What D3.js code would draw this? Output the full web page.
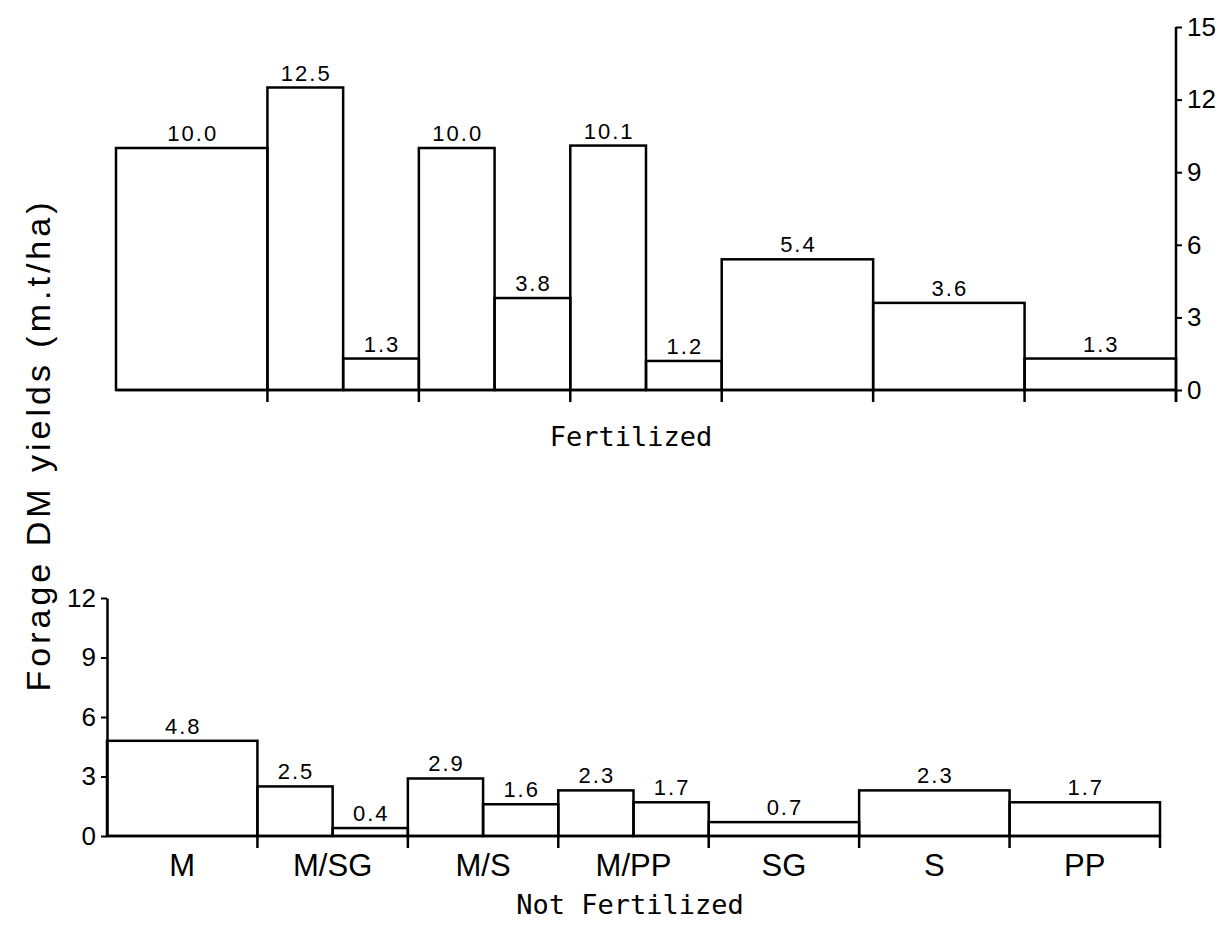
<!DOCTYPE html>
<html>
<head>
<meta charset="utf-8">
<script src="https://cdn.jsdelivr.net/npm/d3@7"></script>
<style>
  body { margin: 0; background: #fff; }
  .val { font-family: "Liberation Sans", Arial, sans-serif; font-size: 22px; letter-spacing: 2px; }
  .cat { font-family: "Liberation Sans", Arial, sans-serif; font-size: 31px; }
  .panel { font-family: "DejaVu Sans Mono", "Liberation Mono", monospace; font-size: 27px; }
  .tick text { font-family: "Liberation Sans", Arial, sans-serif; font-size: 26px; }
</style>
</head>
<body>
<div id="chart"></div>
<script>
// crops, single or mixture (first / second component)
var categories = ["M", "M/SG", "M/S", "M/PP", "SG", "S", "PP"];
var fertFirst = [10.0, 12.5, 10.0, 10.1, 5.4, 3.6, 1.3];
var fertSecond = [null, 1.3, 3.8, 1.2, null, null, null];
var notFertFirst = [4.8, 2.5, 2.9, 2.3, 0.7, 2.3, 1.7];
var notFertSecond = [null, 0.4, 1.6, 1.7, null, null, null];
var fertTicks = [0, 3, 6, 9, 12, 15];
var notFertTicks = [0, 3, 6, 9, 12];

var svgWidth = 1229;
var svgHeight = 930;

var svg = d3.select("#chart")
  .append("svg")
  .attr("width", svgWidth)
  .attr("height", svgHeight)
  .style("background", "#fff");

// build bar records from the arrays
function makeBars(first, second) {
  var bars = [];
  categories.forEach(function(c, i) {
    if (second[i] == null) {
      bars.push({cat: c, part: 0, parts: 1, value: first[i]});
    } else {
      bars.push({cat: c, part: 0, parts: 2, value: first[i]});
      bars.push({cat: c, part: 1, parts: 2, value: second[i]});
    }
  });
  return bars;
}

function drawPanel(opts) {
  var g = svg.append("g");
  var x = d3.scaleBand().domain(categories).range(opts.xRange).padding(0);
  var y = d3.scaleLinear().domain(opts.yDomain).range(opts.yRange);
  var bars = makeBars(opts.first, opts.second);

  var bx = function(d) { return x(d.cat) + d.part * x.bandwidth() / d.parts; };
  var bw = function(d) { return x.bandwidth() / d.parts; };

  g.selectAll("rect.bar")
    .data(bars)
    .enter()
    .append("rect")
    .attr("class", "bar")
    .attr("x", bx)
    .attr("y", d => y(d.value))
    .attr("width", bw)
    .attr("height", d => y(0) - y(d.value))
    .attr("fill", "none")
    .attr("stroke", "#000")
    .attr("stroke-width", 2.5);

  g.selectAll("text.val")
    .data(bars)
    .enter()
    .append("text")
    .attr("class", "val")
    .attr("x", d => bx(d) + bw(d) / 2 + 1)
    .attr("y", d => y(d.value) - 7)
    .attr("text-anchor", "middle")
    .text(d => d.value.toFixed(1));

  // baseline
  g.append("line")
    .attr("x1", opts.xRange[0]).attr("x2", opts.xRange[1])
    .attr("y1", y(0)).attr("y2", y(0))
    .attr("stroke", "#000").attr("stroke-width", 2.5);

  // category boundary ticks below baseline
  var bounds = categories.map(c => x(c) + x.bandwidth());
  g.selectAll("line.bnd")
    .data(bounds)
    .enter()
    .append("line")
    .attr("class", "bnd")
    .attr("x1", d => d).attr("x2", d => d)
    .attr("y1", y(0)).attr("y2", y(0) + 12)
    .attr("stroke", "#000").attr("stroke-width", 2.5);

  // value axis
  var axis = opts.side === "right" ? d3.axisRight(y) : d3.axisLeft(y);
  axis.tickValues(opts.ticks).tickSize(6).tickSizeOuter(0).tickPadding(5);
  var ax = g.append("g")
    .attr("transform", `translate(${opts.side === "right" ? opts.xRange[1] : opts.xRange[0]},0)`)
    .call(axis);
  ax.select(".domain").attr("stroke-width", 2.5);
  ax.selectAll(".tick line").attr("stroke-width", 2);
  ax.selectAll(".tick text").attr("fill", "#000");
  if (opts.side === "right") {
    ax.select(".domain").attr("d", `M0,${opts.yRange[1]}V${y(0) + 12}`);
  }

  if (opts.showCats) {
    g.selectAll("text.cat")
      .data(categories)
      .enter()
      .append("text")
      .attr("class", "cat")
      .attr("x", d => x(d) + x.bandwidth() / 2)
      .attr("y", y(0) + 40)
      .attr("text-anchor", "middle")
      .text(d => d);
  }

  g.append("text")
    .attr("class", "panel")
    .attr("x", opts.titleX)
    .attr("y", opts.titleY)
    .attr("text-anchor", "middle")
    .text(opts.title);
}

drawPanel({
  first: fertFirst, second: fertSecond,
  xRange: [116, 1176], yDomain: [0, 15], yRange: [390, 27],
  ticks: fertTicks, side: "right", showCats: false,
  title: "Fertilized", titleX: 631, titleY: 446
});

drawPanel({
  first: notFertFirst, second: notFertSecond,
  xRange: [107, 1160], yDomain: [0, 12], yRange: [836, 598],
  ticks: notFertTicks, side: "left", showCats: true,
  title: "Not Fertilized", titleX: 630, titleY: 914
});

// shared y axis title
svg.append("text")
  .attr("transform", "rotate(-90)")
  .attr("x", -445)
  .attr("y", 50)
  .attr("text-anchor", "middle")
  .attr("font-family", "Liberation Sans, Arial, sans-serif")
  .attr("font-size", "34px")
  .attr("letter-spacing", "4px")
  .text("Forage DM yields (m.t/ha)");
</script>
</body>
</html>
